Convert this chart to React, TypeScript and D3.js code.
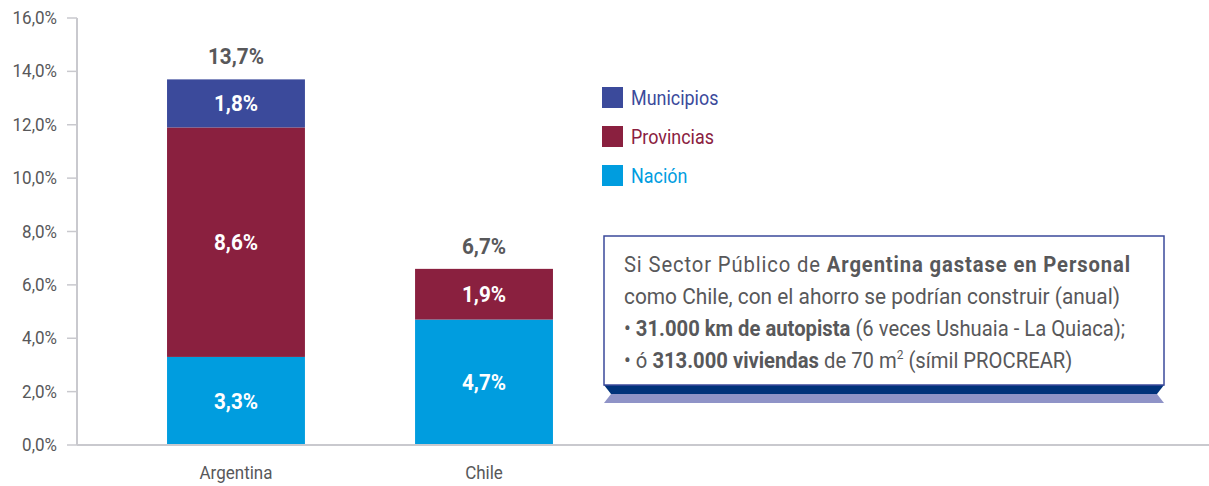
import React from "react";
import * as d3 from "d3";

const countries = ["Argentina", "Chile"];
const nacion = [3.3, 4.7];
const provincias = [8.6, 1.9];
const municipios = [1.8, 0];
const totals = ["13,7%", "6,7%"];
const yTicks = [0, 2, 4, 6, 8, 10, 12, 14, 16];
const seriesNames = ["Municipios", "Provincias", "Nación"];
const seriesColors = ["#3b4a9b", "#8a203f", "#009ddf"];

const W = 1209;
const H = 486;
const FONT = "Roboto, 'Noto Sans', sans-serif";
const SX = 0.92; // condensed look

const fmt = (v: number) => v.toFixed(1).replace(".", ",") + "%";

function CText(props: { x: number; y: number; anchor?: string; size: number; fill: string; bold?: boolean; children: React.ReactNode }) {
  const { x, y, anchor = "start", size, fill, bold, children } = props;
  return (
    <text
      transform={`translate(${x},${y}) scale(${SX},1)`}
      textAnchor={anchor}
      fontSize={size}
      fill={fill}
      fontWeight={bold ? 700 : 400}
      fontFamily={FONT}
    >
      {children}
    </text>
  );
}

export default function App() {
  const y = d3.scaleLinear().domain([0, 16]).range([445, 18]);
  const x = d3.scaleBand().domain(countries).range([77, 643]).paddingInner(0.444).paddingOuter(0.363);
  const bw = x.bandwidth();

  const rows = countries.map((c, i) => ({ c, nacion: nacion[i], provincias: provincias[i], municipios: municipios[i] }));
  const stack = d3.stack<any>().keys(["nacion", "provincias", "municipios"]);
  const layers = stack(rows);
  const colorOf: Record<string, string> = { nacion: seriesColors[2], provincias: seriesColors[1], municipios: seriesColors[0] };

  const bx0 = 604, bx1 = 1164, by0 = 236, by1 = 385;
  const tx = 624;

  return (
    <svg width={W} height={H} style={{ position: "absolute", left: 0, top: 0 }}>
      <rect width={W} height={H} fill="#fff" />
      {/* y axis */}
      <line x1={77} x2={77} y1={y(16)} y2={y(0)} stroke="#c9c9ce" strokeWidth={2} />
      {yTicks.map((t) => (
        <g key={t}>
          <line x1={67} x2={77} y1={y(t)} y2={y(t)} stroke="#c9c9ce" strokeWidth={1.5} />
          <CText x={57} y={y(t) + 6} anchor="end" size={18.5} fill="#58585a">
            {fmt(t)}
          </CText>
        </g>
      ))}
      {/* bars */}
      {layers.map((layer) =>
        layer.map((d, i) =>
          d[1] - d[0] > 0 ? (
            <g key={layer.key + i}>
              <rect x={x(countries[i])!} y={y(d[1])} width={bw} height={y(d[0]) - y(d[1])} fill={colorOf[layer.key]} />
              <CText x={x(countries[i])! + bw / 2} y={(y(d[0]) + y(d[1])) / 2 + 8} anchor="middle" size={22.5} fill="#fff" bold>
                {fmt(d[1] - d[0])}
              </CText>
            </g>
          ) : null
        )
      )}
      {/* x axis */}
      <line x1={77} x2={W} y1={y(0)} y2={y(0)} stroke="#c9c9ce" strokeWidth={2} />
      {countries.map((c, i) => (
        <g key={c}>
          <CText x={x(c)! + bw / 2} y={479} anchor="middle" size={18.5} fill="#58585a">
            {c}
          </CText>
          <CText
            x={x(c)! + bw / 2}
            y={y(nacion[i] + provincias[i] + municipios[i]) - 15}
            anchor="middle"
            size={22.5}
            fill="#58585a"
            bold
          >
            {totals[i]}
          </CText>
        </g>
      ))}
      {/* legend */}
      {seriesNames.map((s, i) => (
        <g key={s}>
          <rect x={602} y={87 + i * 39} width={21} height={21} fill={seriesColors[i]} />
          <CText x={631} y={105 + i * 39} size={19.5} fill={seriesColors[i]}>
            {s}
          </CText>
        </g>
      ))}
      {/* text box */}
      <polygon points={`${bx0},${by1} ${bx1},${by1} ${bx1 - 7},${by1 + 9} ${bx0 + 7},${by1 + 9}`} fill="#00327a" />
      <polygon points={`${bx0 + 7},${by1 + 9} ${bx1 - 7},${by1 + 9} ${bx1},${by1 + 18} ${bx0},${by1 + 18}`} fill="#8f93c7" />
      <rect x={bx0} y={by0} width={bx1 - bx0} height={by1 - by0} fill="#fff" stroke="#3b4a9b" strokeWidth={1.5} />
      <g fontFamily={FONT} fontSize={22} fill="#58585a">
        <text transform={`translate(${tx},272) scale(${SX},1)`} textLength={(1130 - tx) / SX} lengthAdjust="spacing">
          Si Sector Público de <tspan fontWeight={700}>Argentina gastase en Personal</tspan>
        </text>
        <text transform={`translate(${tx},304) scale(${SX},1)`} textLength={(1120 - tx) / SX} lengthAdjust="spacingAndGlyphs">
          como Chile, con el ahorro se podrían construir (anual)
        </text>
        <text transform={`translate(${tx},336) scale(${SX},1)`}>
          • <tspan fontWeight={700}>31.000 km de autopista</tspan> (6 veces Ushuaia - La Quiaca);
        </text>
        <text transform={`translate(${tx},368) scale(${SX},1)`}>
          • ó <tspan fontWeight={700}>313.000 viviendas</tspan> de 70 m<tspan fontSize={13} dy={-9}>2</tspan>
          <tspan dy={9}> (símil PROCREAR)</tspan>
        </text>
      </g>
    </svg>
  );
}
